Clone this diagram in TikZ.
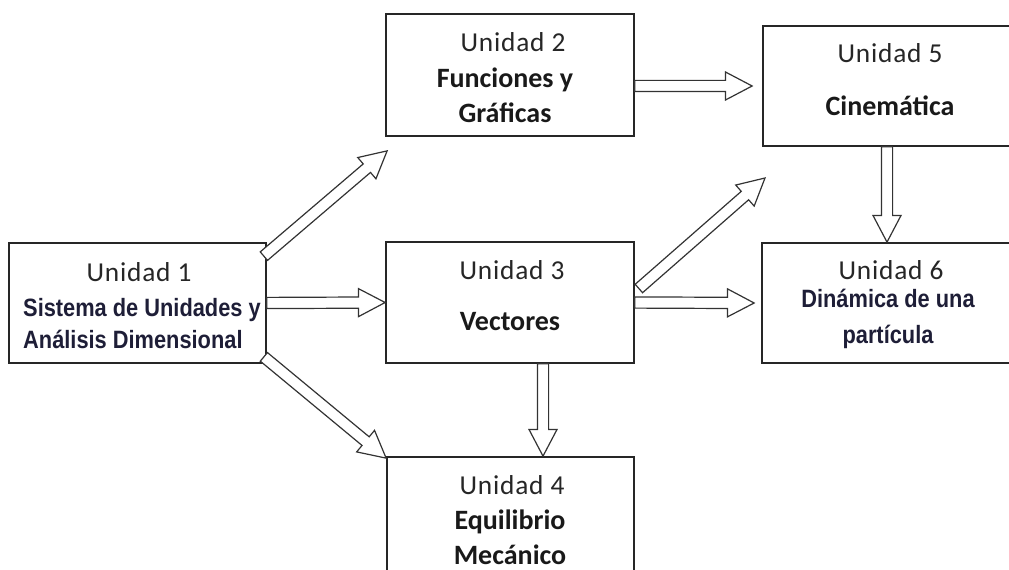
\documentclass[tikz,border=0pt]{standalone}
\usepackage{fontspec}
\setmainfont{Carlito}
\newfontfamily\ligera[LetterSpace=3]{Carlito}
\newfontfamily\angosta[FakeStretch=0.87]{Liberation Sans}
\usetikzlibrary{calc}

\definecolor{tinta}{RGB}{30,30,55}

\newcommand{\flecha}[2]{%
  \coordinate (fh) at ($(#2)!20pt!(#1)$);
  \draw[flechahueca] ($(#1)!4.2pt!90:(#2)$) -- ($(fh)!4.2pt!90:(#2)$)
    -- ($(fh)!10.5pt!90:(#2)$) -- (#2) -- ($(fh)!10.5pt!-90:(#2)$)
    -- ($(fh)!4.2pt!-90:(#2)$) -- ($(#1)!4.2pt!-90:(#2)$) -- cycle;}

\begin{document}
\begin{tikzpicture}[x=0.75pt,y=-0.75pt,
    caja/.style={draw=black!85, line width=1.3pt, minimum height=90pt, inner sep=0pt},
    titulo/.style={font=\ligera\fontsize{20.5}{24}\selectfont, text=black!85},
    tema/.style={font=\bfseries\fontsize{21}{26}\selectfont, text=black!90, align=center},
    temaarial/.style={font=\angosta\bfseries\fontsize{18.8}{24}\selectfont, text=tinta},
    flechahueca/.style={draw=black!80, fill=white, line width=0.9pt, line join=miter}]

    \path[use as bounding box, clip] (0,0) rectangle (1009,570);

    \node[caja, minimum width=192.75pt] (u1) at (137.5,303) {};
    \node[caja, minimum width=186pt, minimum height=91.5pt] (u2) at (510,75) {};
    \node[caja, minimum width=186pt, minimum height=90.75pt] (u3) at (510,302.5) {};
    \node[caja, minimum width=185.25pt] (u4) at (510.5,517) {};
    \node[caja, minimum width=200.25pt] (u5) at (896.5,86) {};
    \node[caja, minimum width=201pt] (u6) at (896,303) {};

    \node[titulo] (t1) at (139,272) {Unidad 1};
    \node[temaarial, align=left] (c1) at (142,324) {Sistema de Unidades y\\Análisis Dimensional};
    \node[titulo] (t2) at (513,42) {Unidad 2};
    \node[tema] (c2) at (505,95.5) {Funciones y\\Gráficas};
    \node[titulo] (t3) at (512,270) {Unidad 3};
    \node[tema] (c3) at (510,322) {Vectores};
    \node[titulo] (t4) at (512,485) {Unidad 4};
    \node[tema] (c4) at (510,537.5) {Equilibrio\\Mecánico};
    \node[titulo] (t5) at (890,53) {Unidad 5};
    \node[tema] (c5) at (890,106) {Cinemática};
    \node[titulo] (t6) at (891,270) {Unidad 6};
    \node[temaarial, align=center, font=\angosta\bfseries\fontsize{18.8}{27}\selectfont] (c6) at (888,319) {Dinámica de una\\partícula};

    \coordinate (a12) at ($(u1.north east)+(-3,14)$);
    \coordinate (b12) at ($(u2.south west)+(2,14)$);
    \coordinate (a14) at ($(u1.south east)+(-3,-7)$);
    \coordinate (b14) at ($(u4.north west)+(0,2)$);
    \coordinate (a34) at ($(u3.south)+(33,0)$);
    \coordinate (b34) at ($(u4.north)+(32.5,0)$);
    \coordinate (b25) at ($(u5.west)+(-10,0)$);
    \coordinate (a25) at (u2.east |- b25);
    \coordinate (a3x) at ($(u3.east)+(4,-14)$);
    \coordinate (libre) at (765,178);
    \coordinate (b36) at ($(u6.west)+(-7,0)$);
    \coordinate (a56) at ($(u5.south)+(-9.5,0)$);
    \coordinate (b56) at ($(u6.north)+(-9,0)$);

    \flecha{a12}{b12}
    \flecha{u1.east}{u3.west}
    \flecha{a14}{b14}
    \flecha{a34}{b34}
    \flecha{a25}{b25}
    \flecha{a3x}{libre}
    \flecha{u3.east}{b36}
    \flecha{a56}{b56}

\end{tikzpicture}
\end{document}
